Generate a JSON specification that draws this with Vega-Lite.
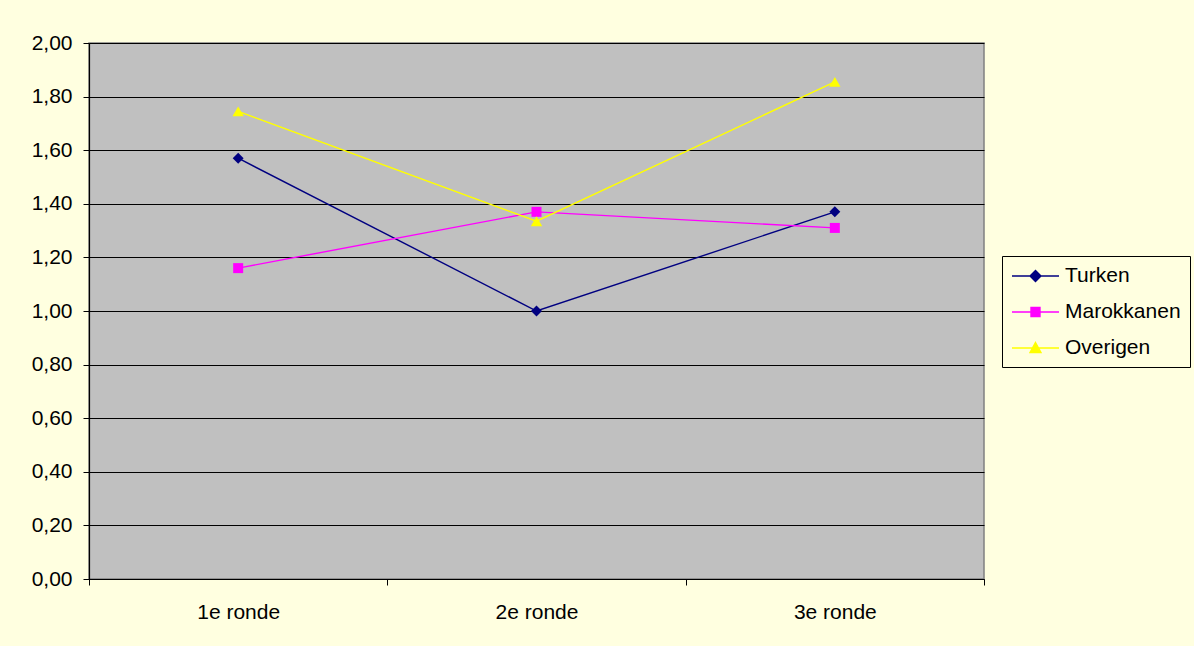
{
  "$schema": "https://vega.github.io/schema/vega-lite/v6.json",
  "width": 895,
  "height": 536,
  "autosize": "none",
  "padding": {"left": 89, "top": 43, "right": 210, "bottom": 67},
  "background": "#FFFFE0",
  "config": {
    "font": "Liberation Sans",
    "view": {"fill": "#C0C0C0", "stroke": "#808080", "strokeWidth": 1.5}
  },
  "data": {
    "values": [
      {"ronde": "1e ronde", "reeks": "Turken", "waarde": 1.57},
      {"ronde": "2e ronde", "reeks": "Turken", "waarde": 1.0},
      {"ronde": "3e ronde", "reeks": "Turken", "waarde": 1.37},
      {"ronde": "1e ronde", "reeks": "Marokkanen", "waarde": 1.16},
      {"ronde": "2e ronde", "reeks": "Marokkanen", "waarde": 1.37},
      {"ronde": "3e ronde", "reeks": "Marokkanen", "waarde": 1.31},
      {"ronde": "1e ronde", "reeks": "Overigen", "waarde": 1.745},
      {"ronde": "2e ronde", "reeks": "Overigen", "waarde": 1.335},
      {"ronde": "3e ronde", "reeks": "Overigen", "waarde": 1.855}
    ]
  },
  "encoding": {
    "x": {
      "field": "ronde",
      "type": "nominal",
      "sort": ["1e ronde", "2e ronde", "3e ronde"],
      "scale": {"paddingInner": 0, "paddingOuter": 0},
      "axis": {
        "title": null,
        "labelAngle": 0,
        "tickBand": "extent",
        "grid": false,
        "domainColor": "#000000",
        "domainWidth": 1.2,
        "tickColor": "#000000",
        "tickSize": 6,
        "labelFontSize": 21,
        "labelColor": "#000000",
        "labelPadding": 16
      }
    },
    "y": {
      "field": "waarde",
      "type": "quantitative",
      "scale": {"domain": [0, 2], "nice": false, "zero": true},
      "axis": {
        "title": null,
        "values": [0, 0.2, 0.4, 0.6, 0.8, 1.0, 1.2, 1.4, 1.6, 1.8, 2.0],
        "labelExpr": "replace(format(datum.value, '.2f'), '.', ',')",
        "grid": true,
        "gridColor": "#000000",
        "gridOpacity": 1,
        "gridWidth": 1,
        "domainColor": "#000000",
        "domainWidth": 1.2,
        "tickColor": "#000000",
        "tickSize": 6,
        "labelFontSize": 21,
        "labelColor": "#000000",
        "labelPadding": 11
      }
    },
    "color": {
      "field": "reeks",
      "type": "nominal",
      "scale": {
        "domain": ["Turken", "Marokkanen", "Overigen"],
        "range": ["#000080", "#FF00FF", "#FFFF00"]
      },
      "legend": null
    }
  },
  "layer": [
    {
      "mark": {"type": "line", "strokeWidth": 1.4},
      "encoding": {
        "color": {
          "field": "reeks",
          "type": "nominal",
          "scale": {
            "domain": ["Turken", "Marokkanen", "Overigen"],
            "range": ["#000080", "#FF00FF", "#FFFF00"]
          },
          "legend": {
            "title": null,
            "orient": "none",
            "legendX": 913,
            "legendY": 213,
            "padding": 9,
            "rowPadding": 15,
            "symbolSize": 400,
            "labelOffset": 32,
            "labelFontSize": 21,
            "labelColor": "#000000",
            "strokeColor": "#000000",
            "fillColor": "#FFFFE0",
            "encode": {
              "symbols": {
                "update": {
                  "shape": {"signal": "datum.value === 'Turken' ? 'M-1,0H3.7M1.35,-0.55L1.9,0L1.35,0.55L0.8,0Z' : datum.value === 'Marokkanen' ? 'M-1,0H3.7M0.9,-0.45H1.8V0.45H0.9Z' : 'M-1,0H3.7M1.35,-0.55L1.9,0.45H0.8Z'"},
                  "fill": {"scale": "color", "field": "value"},
                  "stroke": {"scale": "color", "field": "value"},
                  "strokeWidth": {"value": 1.4},
                  "opacity": {"value": 1}
                }
              }
            }
          }
        }
      }
    },
    {
      "transform": [{"filter": "datum.reeks === 'Turken'"}],
      "mark": {"type": "point", "shape": "diamond", "filled": true, "opacity": 1, "size": 120}
    },
    {
      "transform": [{"filter": "datum.reeks === 'Marokkanen'"}],
      "mark": {"type": "point", "shape": "square", "filled": true, "opacity": 1, "size": 100}
    },
    {
      "transform": [{"filter": "datum.reeks === 'Overigen'"}],
      "mark": {"type": "point", "shape": "triangle-up", "filled": true, "opacity": 1, "size": 130}
    }
  ]
}
